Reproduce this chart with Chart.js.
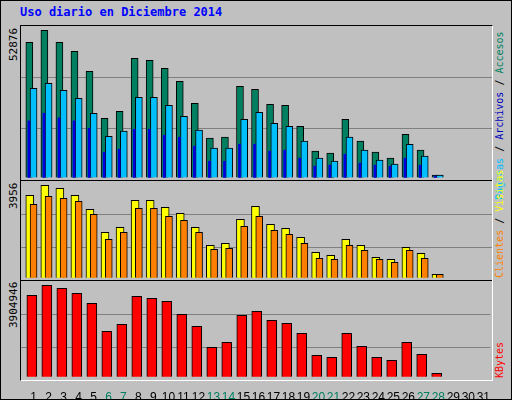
<!DOCTYPE html>
<html>
<head>
<meta charset="utf-8">
<script src="https://cdn.jsdelivr.net/npm/chart.js@4"></script>
<style>
  body { margin: 0; overflow: hidden; background: #c0c0c0; }
  #wrap { position: relative; width: 510px; height: 398px; background: #c0c0c0; border: 1px solid #000; }
  .abs { position: absolute; }
  canvas { position: absolute; }
  .rot { position: absolute; transform-origin: 0 0; transform: rotate(-90deg); white-space: nowrap;
         font-family: "DejaVu Sans Mono", monospace; font-size: 10px; line-height: 12px; }
</style>
</head>
<body>
<div id="wrap">
  <div class="abs" style="left:19px;top:4px;font-family:'DejaVu Sans Mono',monospace;font-weight:bold;font-size:12px;color:#0000ff">Uso diario en Diciembre 2014</div>
  <!-- marco -->
  <div class="abs" style="left:19px;top:24px;width:471px;height:354px;border-left:1px solid #000;border-top:1px solid #000;border-right:1px solid #fff;border-bottom:1px solid #fff"></div>
  <div class="abs" style="left:20px;top:179px;width:471px;height:1px;background:#000"></div>
  <div class="abs" style="left:20px;top:279px;width:471px;height:1px;background:#000"></div>
  <canvas id="c1" width="471" height="155" style="left:20px;top:25px"></canvas>
  <canvas id="c2" width="471" height="100" style="left:20px;top:180px"></canvas>
  <canvas id="c3" width="471" height="118" style="left:20px;top:280px"></canvas>
  <!-- máximos -->
  <div class="rot" style="left:7px;top:60px;font-size:11px">52876</div>
  <div class="rot" style="left:7px;top:208px;font-size:11px">3956</div>
  <div class="rot" style="left:7px;top:327px;font-size:11px">3904946</div>
  <!-- leyenda -->
  <div class="rot" style="left:493px;top:199px"><span style="color:#00bfff">Páginas</span> / <span style="color:#0000c0">Archivos</span> / <span style="color:#008060">Accesos</span></div>
  <div class="rot" style="left:493px;top:277px"><span style="color:#ff8000">Clientes</span> / <span style="color:#ffff00">Visitas</span></div>
  <div class="rot" style="left:493px;top:377px"><span style="color:#ff0000">KBytes</span></div>
</div>
<script>
var days = [];
for (var d = 1; d <= 31; d++) days.push(d);
var dataDays = days.slice(0, 28);
var weekend = [6, 7, 13, 14, 20, 21, 27, 28];

var accesos = [48570,52876,48570,45330,38160,21290,23810,42830,42110,39240,34580,26680,14120,14480,32780,31700,26320,25960,18420,9450,8730,20940,13040,9090,6940,15550,9810,840];
var archivos = [32060,33860,31340,28470,23090,14830,16630,28830,28830,25960,22010,16990,10530,10530,20940,23450,19500,18420,13040,6940,5860,14480,9810,6220,4790,11960,7660,840];
var paginas = [20340,23090,21410,20340,17700,9090,10170,17350,17350,15190,14480,11240,5860,5860,11960,11960,9450,9810,6940,4070,4430,8370,5140,4430,4070,6940,4430,500];
var visitas = [3527,3956,3827,3527,2928,1942,2157,3313,3313,3013,2756,2157,1385,1471,2499,3056,2285,2114,1728,1085,957,1642,1385,871,786,1300,1043,143];
var clientes = [3142,3485,3399,3271,2714,1642,1942,2971,2971,2628,2457,1942,1214,1257,2199,2628,2028,1857,1471,828,786,1385,1171,786,657,1171,828,143];
var kbytes = [3477000,3904946,3777000,3563000,3135000,1938000,2237000,3435000,3349000,3221000,2665000,2152000,1254000,1468000,2622000,2793000,2409000,2280000,1853000,912000,827000,1853000,1297000,827000,698000,1468000,955000,143000];

function pts(arr, off) {
  return arr.map(function (v, i) { return { x: dataDays[i] + off, y: v }; });
}
function ds(arr, off, color, w, order, border) {
  return { data: pts(arr, off), backgroundColor: color, borderColor: '#000', borderWidth: border,
           barThickness: w, grouped: false, order: order };
}

function makeChart(id, datasets, ymin, ymax, grids, showX) {
  new Chart(document.getElementById(id), {
    type: 'bar',
    data: { datasets: datasets },
    options: {
      responsive: false, animation: false,
      layout: { padding: 0 },
      plugins: { legend: { display: false }, tooltip: { enabled: false } },
      scales: {
        x: {
          type: 'linear', min: 0.167, max: 31.47, display: showX, offset: false,
          grid: { display: false }, border: { display: false },
          afterBuildTicks: function (a) { a.ticks = days.map(function (v) { return { value: v }; }); },
          afterFit: function (a) { if (showX) a.height = 19; },
          ticks: {
            padding: 2, autoSkip: false, maxRotation: 0,
            font: { family: 'Liberation Sans', size: 12 },
            color: function (c) { return weekend.indexOf(c.tick.value) >= 0 ? '#008060' : '#000'; }
          }
        },
        y: {
          min: ymin, max: ymax,
          afterBuildTicks: function (a) { a.ticks = grids.map(function (v) { return { value: v }; }); },
          afterFit: function (a) { a.width = 0; },
          ticks: { display: false },
          grid: { color: '#808080', drawTicks: false },
          border: { display: false }
        }
      }
    }
  });
}

makeChart('c1', [
  ds(accesos, -0.28, '#008060', 7, 2, 1),
  ds(archivos, 0.0, '#00bfff', 7, 1, 1),
  ds(paginas, -0.31, '#0000e0', 2, 0, 0)
], -1257, 54420, [17780, 35920], false);

makeChart('c2', [
  ds(visitas, -0.25, '#ffff00', 8, 1, 1),
  ds(clientes, 0.0, '#ff8000', 7, 0, 1)
], -141, 4140, [1301, 2714], false);

makeChart('c3', [
  ds(kbytes, -0.11, '#ff0000', 10, 0, 1)
], -141000, 4088700, [1256000, 2666000], true);
</script>
</body>
</html>
